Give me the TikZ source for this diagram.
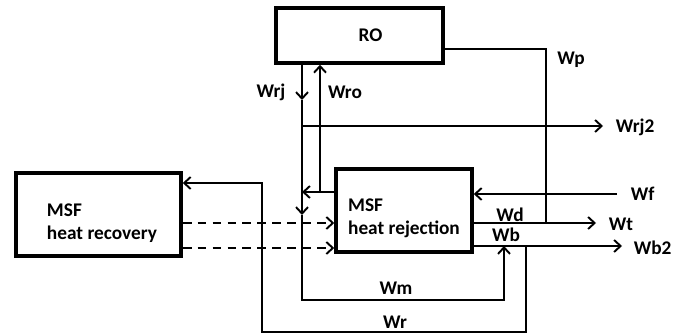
\documentclass[tikz,border=0pt]{standalone}
\usepackage{fontspec}
\setmainfont{Carlito}
\usetikzlibrary{arrows.meta}
\begin{document}
\begin{tikzpicture}[x=0.02cm,y=-0.02cm,line width=1.1pt,>={Straight Barb[length=1.3mm,width=2.4mm]},
  every node/.style={font=\bfseries\fontsize{11}{13}\selectfont},
  unit/.style={draw,line width=2pt,inner sep=0pt},
  flow/.style={->,line width=1.1pt},
  dflow/.style={->,dashed,dash pattern=on 5pt off 3.5pt,line width=1.1pt}]
  \useasboundingbox (0,0) rectangle (678,334);
  \node[unit,minimum width=3.34cm,minimum height=1.1cm,label={[xshift=0.22cm]center:RO}] (ro) at (359.5,35.5) {};
  \node[unit,minimum width=3.3cm,minimum height=1.66cm,label={[align=left,yshift=-0.17cm,xshift=0.07cm]center:MSF\\heat recovery}] (hrec) at (98.5,214.5) {};
  \node[unit,minimum width=2.72cm,minimum height=1.66cm,label={[align=left,yshift=-0.15cm]center:MSF\\heat rejection}] (hrej) at (404,210.5) {};
  \coordinate (wrj2) at (603,126);
  \coordinate (wt) at (596,223);
  \coordinate (wb2) at (622,246);
  \coordinate (wf) at (617,194);
  \coordinate (wmend) at (504,246);
  \draw[flow] (ro.south -| 302,0) -- (302,100);
  \draw[flow] (302,100) -- (302,215);
  \draw[flow] (302,215) -- (302,300) -| (wmend);
  \draw[flow] (302,126) -- (wrj2);
  \draw[flow] (hrej.west |- 0,192) -- (302,192);
  \draw[flow] (320,192) -- (ro.south -| 320,0);
  \draw (ro.east |- 0,49) -| (546,223);
  \draw[flow] (wf) -- (hrej.east |- wf);
  \draw[flow] (hrej.east |- wt) -- (wt);
  \draw[flow] (hrej.east |- wb2) -- (wb2);
  \draw[flow] (526,246) |- (262,332) |- (hrec.east |- 0,183);
  \draw[dflow] (hrec.east |- 0,223) -- (hrej.west |- 0,223);
  \draw[dflow] (hrec.east |- 0,248) -- (hrej.west |- 0,248);
  \node (lwrj) at (271,92) {Wrj};
  \node (lwro) at (345,92) {Wro};
  \node (lwp) at (571,60) {Wp};
  \node[anchor=west] (lwrj2) at (609,127) {Wrj2};
  \node[anchor=west] (lwf) at (624,194) {Wf};
  \node[anchor=west] (lwt) at (602,224) {Wt};
  \node[anchor=west] (lwb2) at (627,248) {Wb2};
  \node (lwd) at (510,215) {Wd};
  \node (lwb) at (506,235) {Wb};
  \node (lwm) at (396,288) {Wm};
  \node (lwr) at (395,322) {Wr};
\end{tikzpicture}
\end{document}
